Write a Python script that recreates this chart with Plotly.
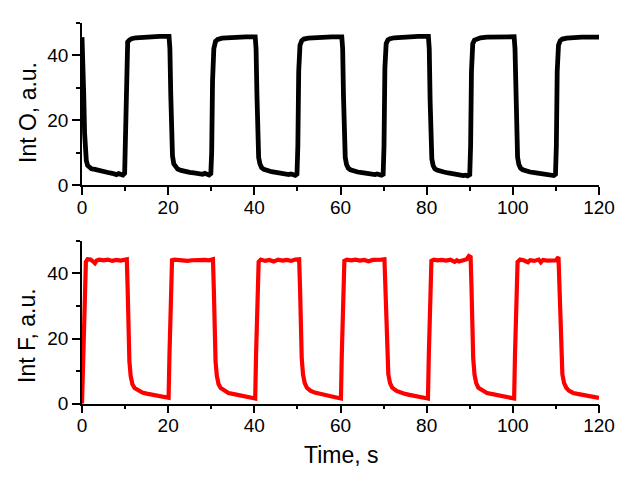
import plotly.graph_objects as go

# ---- data: Int O (black, top panel) ----
time_o = [0, 0.2, 0.4, 0.6, 0.8, 1.0, 1.3, 1.7, 2.2, 3, 4, 5, 6, 6.5, 7, 7.5, 8, 8.5, 9, 9.5, 9.9,
          10.1, 10.3, 10.6, 11, 11.5, 12.5, 14, 16, 18, 20.2,
          20.4, 20.6, 20.8, 21.0, 21.3, 21.7, 22.2, 23, 24, 25, 26, 27, 27.5, 28, 28.5, 29, 29.5, 29.9,
          30.1, 30.3, 30.6, 31, 31.5, 32.5, 34, 36, 38, 40.2,
          40.4, 40.6, 40.8, 41.0, 41.3, 41.7, 42.2, 43, 44, 45, 46, 47, 48, 48.5, 49, 49.5, 49.9,
          50.1, 50.3, 50.6, 51, 51.5, 52.5, 54, 56, 58, 60.3,
          60.5, 60.7, 60.9, 61.1, 61.4, 61.8, 62.3, 63, 64, 65, 66, 67, 68, 68.5, 69, 69.5, 69.9,
          70.1, 70.3, 70.6, 71, 71.5, 72.5, 74, 76, 78, 80.4,
          80.6, 80.8, 81.0, 81.2, 81.5, 81.9, 82.4, 83, 84, 85, 86, 87, 88, 88.5, 89, 89.5, 90,
          90.2, 90.4, 90.7, 91.1, 91.6, 92.5, 94, 96, 98, 100.3,
          100.5, 100.7, 100.9, 101.1, 101.4, 101.8, 102.3, 103, 104, 105, 106, 107, 108, 108.5, 109, 109.5, 109.9,
          110.1, 110.3, 110.6, 111, 111.5, 112.5, 114, 116, 118, 120]
int_o = [45.5, 40, 28, 16, 10, 7.5, 6, 5.3, 5, 4.8, 4.4, 4.1, 3.9, 3.7, 3.6, 3.4, 3.2, 3.5, 3.2, 3.1, 3.6,
         15, 40, 44, 44.6, 45, 45.3, 45.5, 45.6, 45.7, 45.7,
         42, 28, 14, 9, 6.5, 5.5, 4.9, 4.5, 4.1, 3.9, 3.7, 3.5, 3.4, 3.3, 3.6, 3.3, 3.1, 3.5,
         10, 32, 42, 44.2, 44.8, 45.2, 45.4, 45.5, 45.6, 45.6,
         42, 28, 13, 8.5, 6.5, 5.3, 4.8, 4.4, 4.1, 3.9, 3.6, 3.4, 3.2, 3.4, 3.1, 3.0, 3.4,
         12, 35, 43, 44.4, 44.9, 45.2, 45.4, 45.5, 45.6, 45.6,
         42, 27, 13, 8.5, 6.3, 5.2, 4.7, 4.3, 4.0, 3.8, 3.5, 3.3, 3.2, 3.4, 3.1, 3.0, 3.3,
         12, 36, 43.5, 44.6, 45, 45.3, 45.5, 45.6, 45.7, 45.7,
         42, 26, 12, 8, 6, 5, 4.6, 4.3, 4.0, 3.7, 3.4, 3.2, 3.1, 2.9, 3.0, 2.8, 3.2,
         12, 35, 43.5, 44.6, 45, 45.3, 45.5, 45.6, 45.6, 45.6,
         42, 27, 13, 8.5, 6.3, 5.2, 4.7, 4.3, 4.0, 3.8, 3.6, 3.4, 3.2, 3.0, 3.1, 2.9, 3.3,
         12, 35, 43, 44.4, 44.9, 45.2, 45.4, 45.5, 45.5, 45.5]

# ---- data: Int F (red, bottom panel) ----
time_f = [0, 0.3, 0.6, 0.9, 1.3, 2, 2.6, 3, 3.4, 4, 5, 6, 7, 8, 9, 10, 10.4,
          10.6, 10.8, 11.0, 11.3, 11.7, 12.2, 13, 14, 15, 16, 17, 18, 19, 19.7, 20.1,
          20.3, 20.6, 20.9, 21.5, 22.5, 23.5, 24.5, 25.5, 26.5, 27.5, 28.5, 29.5, 30.4,
          30.6, 30.8, 31.0, 31.3, 31.7, 32.2, 33, 34, 35, 36, 37, 38, 39, 39.8, 40.2,
          40.4, 40.7, 41.0, 41.5, 42.5, 43.5, 44.5, 45.5, 46.5, 47.5, 48.5, 49.5, 50.4,
          50.6, 50.8, 51.0, 51.3, 51.7, 52.2, 53, 54, 55, 56, 57, 58, 59, 59.8, 60.1,
          60.3, 60.6, 60.9, 61.5, 62.5, 63.5, 64.5, 65.5, 66.5, 67.5, 68.5, 69.5, 70.2,
          70.4, 70.6, 70.8, 71.1, 71.5, 72, 73, 74, 75, 76, 77, 78, 79, 79.8, 80.3,
          80.5, 80.8, 81.1, 81.7, 82.5, 83.5, 84.5, 85.5, 86.5, 87, 87.5, 88.5, 89.3, 89.8, 90.2,
          90.4, 90.6, 90.8, 91.1, 91.5, 92, 93, 94, 95, 96, 97, 98, 99, 99.8, 100.3,
          100.5, 100.8, 101.1, 101.7, 102.5, 103.5, 104, 105, 106, 106.5, 107, 108, 109, 110, 110.6,
          110.8, 111.0, 111.2, 111.5, 111.9, 112.4, 113, 114, 115, 116, 117, 118, 119, 120]
int_f = [0, 15, 35, 43.5, 44.3, 44.2, 43.6, 43.1, 43.9, 44.2, 44, 44.2, 43.8, 44.1, 43.9, 44.2, 44.3,
         35, 22, 13, 8.5, 6, 4.8, 4, 3.4, 3.1, 2.9, 2.7, 2.3, 2.2, 2.0, 1.8,
         15, 38, 44, 44.2, 44, 44.1, 43.8, 44, 44.1, 43.9, 44.1, 44, 44.3,
         35, 22, 13, 8.5, 6, 4.8, 4, 3.3, 3.0, 2.7, 2.5, 2.2, 2.0, 1.7, 1.6,
         15, 38, 43.5, 44.2, 43.8, 44.1, 43.6, 44.2, 43.9, 44.1, 43.8, 44.2, 44.3,
         36, 23, 14, 9, 6.3, 4.9, 4, 3.4, 3.0, 2.8, 2.5, 2.2, 2.0, 1.7, 1.6,
         15, 38, 43.8, 44.2, 44, 44.2, 43.9, 44.1, 43.7, 44.1, 44, 44.2, 44.3,
         36, 23, 14, 9, 6.3, 4.9, 3.9, 3.3, 3.0, 2.7, 2.4, 2.2, 2.0, 1.7, 1.6,
         15, 38, 43.8, 44.2, 44, 44.1, 43.9, 44.2, 43.5, 44, 43.6, 44, 44.3, 45.3, 45,
         36, 23, 14, 9, 6.3, 4.9, 3.9, 3.3, 3.0, 2.7, 2.4, 2.2, 2.0, 1.7, 1.6,
         15, 38, 43.5, 44.2, 44, 43.4, 44, 43.8, 44.2, 43.4, 44.1, 43.9, 44.1, 44, 45,
         36, 23, 14, 9, 6.3, 4.9, 4.0, 3.3, 3.0, 2.7, 2.5, 2.2, 2.0, 1.8]

x_ticks = [0, 20, 40, 60, 80, 100, 120]
y_ticks = [0, 20, 40]
x_title = "Time, s"
y_title_top = "Int O, a.u."
y_title_bottom = "Int F, a.u."

W, H = 637, 478
OFF = 8  # page body margin in the browser
FONT = "Liberation Sans, Arial, sans-serif"

fig = go.Figure()
fig.add_trace(go.Scatter(x=time_o, y=int_o, mode="lines", xaxis="x", yaxis="y",
                         line=dict(color="black", width=4.8), showlegend=False))
fig.add_trace(go.Scatter(x=time_f, y=int_f, mode="lines", xaxis="x2", yaxis="y2",
                         line=dict(color="#ff0000", width=4.2), showlegend=False))

def px_x(p):
    return (p - OFF) / W

def px_y(p):
    return 1 - (p - OFF) / H

xdom = [px_x(82), px_x(599)]
common_x = dict(range=[0, 120], tickvals=x_ticks, showgrid=False, zeroline=False,
                showline=True, linecolor="black", linewidth=1.5, automargin=False,
                ticks="outside", ticklen=8, tickwidth=1.5, tickcolor="black",
                ticklabelstandoff=-4,
                minor=dict(dtick=10, tick0=0, ticklen=4, tickwidth=1.5, tickcolor="black", ticks="outside"),
                tickfont=dict(family=FONT, size=19, color="black"), domain=xdom)
common_y = dict(range=[0, 50], tickvals=y_ticks, showgrid=False, zeroline=False,
                showline=True, linecolor="black", linewidth=1.5, automargin=False,
                ticks="outside", ticklen=8, tickwidth=1.5, tickcolor="black",
                minor=dict(dtick=10, tick0=0, ticklen=4, tickwidth=1.5, tickcolor="black", ticks="outside"),
                tickfont=dict(family=FONT, size=19, color="black"))

fig.update_layout(
    width=W, height=H,
    margin=dict(l=0, r=0, t=0, b=0, autoexpand=False),
    paper_bgcolor="white", plot_bgcolor="white",
    xaxis=dict(**common_x, anchor="y"),
    yaxis=dict(**common_y, anchor="x", domain=[px_y(185), px_y(22.5)]),
    xaxis2=dict(**common_x, anchor="y2"),
    yaxis2=dict(**common_y, anchor="x2", domain=[px_y(403.7), px_y(240.7)]),
    annotations=[
        dict(text=y_title_top, x=px_x(28), y=px_y(113), xref="paper", yref="paper",
             textangle=-90, showarrow=False, xanchor="center", yanchor="middle",
             font=dict(family=FONT, size=23, color="black")),
        dict(text=y_title_bottom, x=px_x(27), y=px_y(336), xref="paper", yref="paper",
             textangle=-90, showarrow=False, xanchor="center", yanchor="middle",
             font=dict(family=FONT, size=23, color="black")),
        dict(text=x_title, x=px_x(341), y=px_y(455), xref="paper", yref="paper",
             showarrow=False, xanchor="center", yanchor="middle",
             font=dict(family=FONT, size=23, color="black")),
    ],
)

fig.write_html("out.html")
